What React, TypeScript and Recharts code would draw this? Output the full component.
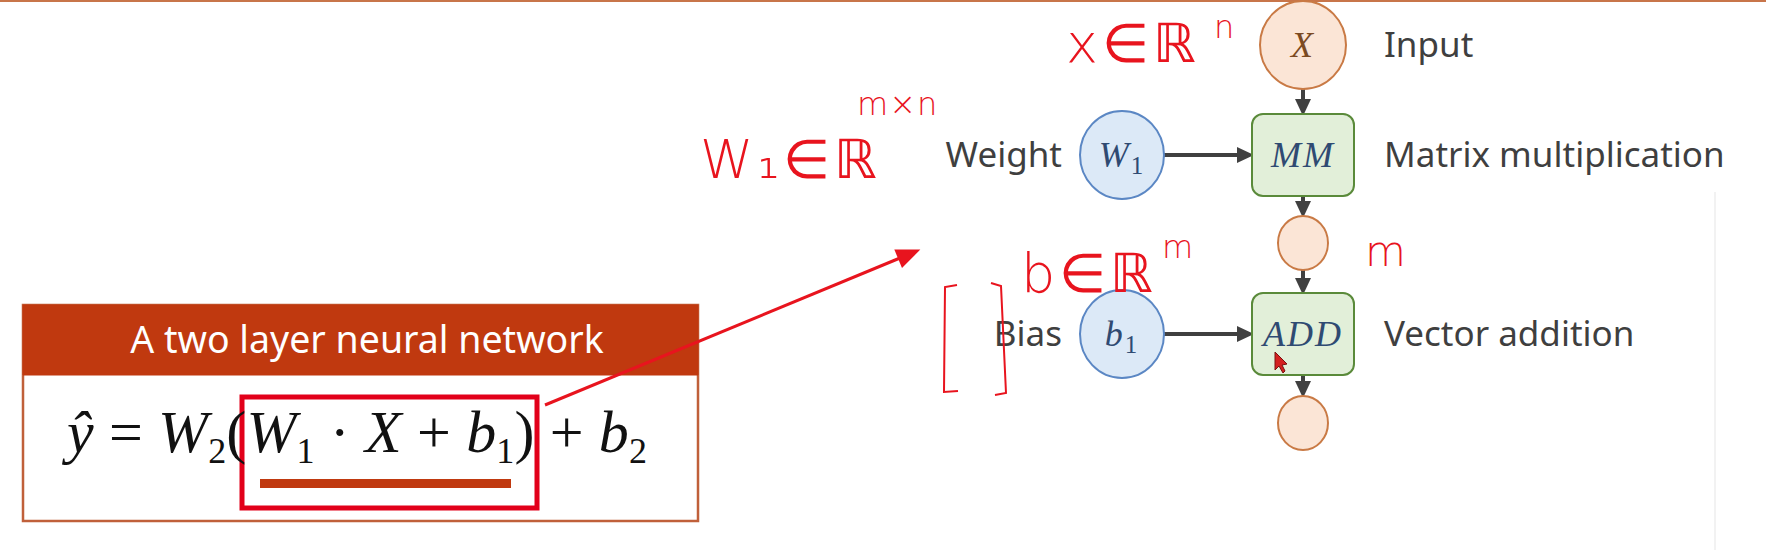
import React from 'react';
import { ScatterChart, Scatter, XAxis, YAxis, ReferenceArea, ReferenceLine } from 'recharts';

const W = 1766;
const H = 550;

// computation graph nodes (slide pixel space)
const nodeIds = ['X', 'W1', 'MM', 'h1', 'b1', 'ADD', 'h2'];
const nodeKinds = ['input', 'param', 'op', 'hidden', 'param', 'op', 'hidden'];
const nodeX = [1303, 1122, 1303, 1303, 1122, 1303, 1303];
const nodeY = [45, 155, 155, 243, 334, 334, 423];
const nodeMain = ['X', 'W', 'MM', '', 'b', 'ADD', ''];
const nodeSub = ['', '1', '', '', '1', '', ''];

const edgeFrom = ['X', 'W1', 'MM', 'h1', 'b1', 'ADD'];
const edgeTo = ['MM', 'MM', 'h1', 'ADD', 'ADD', 'h2'];

const labelText = ['Input', 'Weight', 'Matrix multiplication', 'Bias', 'Vector addition'];
const labelX = [1384, 1062, 1384, 1062, 1384];
const labelY = [45, 155, 155, 334, 334];
const labelSide = ['right', 'left', 'right', 'left', 'right'];

// handwritten annotations
const handText = ['x∈ℝ', 'n', 'W₁∈ℝ', 'm×n', 'b∈ℝ', 'm', 'm'];
const handX = [1066, 1214, 700, 857, 1021, 1162, 1365];
const handY = [62, 38, 178, 115, 292, 258, 266];
const handKind = ['big', 'sup', 'big', 'sup', 'big', 'sup', 'mid'];

const bracketLeft = [
  { x: 957, y: 285 },
  { x: 945, y: 287 },
  { x: 944, y: 392 },
  { x: 958, y: 391 },
];
const bracketRight = [
  { x: 991, y: 283 },
  { x: 1001, y: 286 },
  { x: 1006, y: 393 },
  { x: 995, y: 395 },
];

const pointerArrow = [
  { x: 545, y: 405, end: false },
  { x: 900, y: 258, end: true },
];

const cursorPoint = [{ x: 1275, y: 352 }];

const kindStyle: Record<string, any> = {
  input: { rx: 43, ry: 44, fill: '#fbe5d6', stroke: '#c97a45', text: '#7b4a22' },
  hidden: { rx: 25, ry: 27, fill: '#fbe5d6', stroke: '#c97a45', text: '#7b4a22' },
  param: { rx: 42, ry: 44, fill: '#dce9f7', stroke: '#5b87c4', text: '#2f4a72' },
  op: { rx: 51, ry: 41, fill: '#e2efd9', stroke: '#5a8a3a', text: '#2f4a72' },
};

const handSize: Record<string, number> = { big: 54, sup: 32, mid: 42 };

const ARROW = 15;
const RED = '#e8141e';

const nodes = nodeIds.map((id, i) => ({
  id,
  x: nodeX[i],
  y: nodeY[i],
  kind: nodeKinds[i],
  main: nodeMain[i],
  sub: nodeSub[i],
}));

const edges = edgeFrom.map((f, i) => {
  const a = nodeIds.indexOf(f);
  const b = nodeIds.indexOf(edgeTo[i]);
  const dx = nodeX[b] - nodeX[a];
  const dy = nodeY[b] - nodeY[a];
  const len = Math.hypot(dx, dy);
  const ux = dx / len;
  const uy = dy / len;
  const sa = kindStyle[nodeKinds[a]];
  const sb = kindStyle[nodeKinds[b]];
  const ea = Math.abs(ux) * sa.rx + Math.abs(uy) * sa.ry;
  const eb = Math.abs(ux) * sb.rx + Math.abs(uy) * sb.ry;
  return [
    { x: nodeX[a] + ux * ea, y: nodeY[a] + uy * ea, end: false },
    { x: nodeX[b] - ux * (eb + ARROW - 2), y: nodeY[b] - uy * (eb + ARROW - 2), end: true, ux, uy },
  ];
});

const labels = labelText.map((t, i) => ({ t, x: labelX[i], y: labelY[i], side: labelSide[i] }));
const hands = handText.map((t, i) => ({ t, x: handX[i], y: handY[i], kind: handKind[i] }));
const titlePoint = [{ x: 367, y: 340 }];
const formulaPoint = [{ x: 67, y: 452 }];

const NodeShape = (props: any) => {
  const { cx, cy, payload } = props;
  const s = kindStyle[payload.kind];
  const body =
    payload.kind === 'op' ? (
      <rect x={cx - s.rx} y={cy - s.ry} width={s.rx * 2} height={s.ry * 2} rx={11} fill={s.fill} stroke={s.stroke} strokeWidth={2} />
    ) : (
      <ellipse cx={cx} cy={cy} rx={s.rx} ry={s.ry} fill={s.fill} stroke={s.stroke} strokeWidth={2} />
    );
  return (
    <g>
      {body}
      {payload.main && (
        <text
          x={cx}
          y={cy + 12}
          textAnchor="middle"
          fontFamily="'Liberation Serif', serif"
          fontStyle="italic"
          fontSize={36}
          letterSpacing={2}
          fill={s.text}
        >
          {payload.main}
          {payload.sub && (
            <tspan fontStyle="normal" fontSize={25} dy={7}>
              {payload.sub}
            </tspan>
          )}
        </text>
      )}
    </g>
  );
};

const arrowHead = (color: string, len: number, half: number) => (props: any) => {
  const { cx, cy, payload } = props;
  if (!payload.end) return <g />;
  let ux = payload.ux;
  let uy = payload.uy;
  if (ux === undefined) {
    const dx = pointerArrow[1].x - pointerArrow[0].x;
    const dy = pointerArrow[1].y - pointerArrow[0].y;
    const l = Math.hypot(dx, dy);
    ux = dx / l;
    uy = dy / l;
  }
  const tx = cx + ux * len;
  const ty = cy + uy * len;
  const bx = cx - ux * 2;
  const by = cy - uy * 2;
  const pts = `${tx},${ty} ${bx - uy * half},${by + ux * half} ${bx + uy * half},${by - ux * half}`;
  return <polygon points={pts} fill={color} />;
};

const LabelShape = (props: any) => {
  const { cx, cy, payload } = props;
  return (
    <text
      x={cx}
      y={cy + 12}
      textAnchor={payload.side === 'left' ? 'end' : 'start'}
      fontFamily="'Noto Sans', sans-serif"
      fontSize={35}
      fill="#3f3f3f"
    >
      {payload.t}
    </text>
  );
};

const HandShape = (props: any) => {
  const { cx, cy, payload } = props;
  return (
    <text
      x={cx}
      y={cy}
      fontFamily="'DejaVu Sans', Roboto, sans-serif"
      fontWeight={200}
      fontSize={handSize[payload.kind]}
      letterSpacing={payload.kind === 'big' ? 4 : 1}
      fill={RED}
    >
      {payload.t}
    </text>
  );
};

const TitleShape = (props: any) => (
  <text
    x={props.cx}
    y={props.cy + 13}
    textAnchor="middle"
    fontFamily="'Noto Sans', sans-serif"
    fontSize={37.5}
    fill="#ffffff"
  >
    A two layer neural network
  </text>
);

const FormulaShape = (props: any) => {
  const it = { fontStyle: 'italic' as const };
  const sub = { fontSize: 36, fontStyle: 'normal' as const };
  return (
    <text
      x={props.cx}
      y={props.cy}
      fontFamily="'Liberation Serif', serif"
      fontSize={60}
      fill="#111111"
      textLength={580}
      lengthAdjust="spacing"
    >
      <tspan {...it}>ŷ</tspan>
      <tspan> = </tspan>
      <tspan {...it}>W</tspan>
      <tspan {...sub} dy={11}>2</tspan>
      <tspan dy={-11}>(</tspan>
      <tspan {...it}>W</tspan>
      <tspan {...sub} dy={11}>1</tspan>
      <tspan dy={-11}> · </tspan>
      <tspan {...it}>X</tspan>
      <tspan> + </tspan>
      <tspan {...it}>b</tspan>
      <tspan {...sub} dy={11}>1</tspan>
      <tspan dy={-11}>) + </tspan>
      <tspan {...it}>b</tspan>
      <tspan {...sub} dy={11}>2</tspan>
    </text>
  );
};

const CursorShape = (props: any) => {
  const { cx, cy } = props;
  const pts = `${cx},${cy} ${cx},${cy + 18} ${cx + 4},${cy + 14} ${cx + 8},${cy + 21} ${cx + 10},${cy + 19} ${cx + 7},${cy + 13} ${cx + 12},${cy + 12}`;
  return <polygon points={pts} fill="#d42020" stroke="#7a1010" strokeWidth={1} />;
};

const Empty = () => <g />;

export default function App() {
  return (
    <div style={{ width: W, height: H, background: '#ffffff' }}>
      <style>{'body{margin:0;overflow:hidden;}'}</style>
      <ScatterChart width={W} height={H} margin={{ top: 0, right: 0, bottom: 0, left: 0 }}>
        <XAxis type="number" dataKey="x" domain={[0, W]} allowDataOverflow hide />
        <YAxis type="number" dataKey="y" domain={[0, H]} allowDataOverflow reversed hide />

        <ReferenceLine y={1} stroke="#c8754a" strokeWidth={2} />
        <ReferenceLine
          segment={[
            { x: 1715, y: 192 },
            { x: 1715, y: 550 },
          ]}
          stroke="#f2f2f2"
          strokeWidth={2}
        />

        {/* formula card */}
        <ReferenceArea x1={23} x2={698} y1={305} y2={521} fill="#ffffff" fillOpacity={1} stroke="#c0603a" strokeWidth={2.5} />
        <ReferenceArea x1={23} x2={698} y1={305} y2={375} fill="#c0390f" fillOpacity={1} stroke="#c0390f" />
        <ReferenceArea x1={260} x2={511} y1={479} y2={488} fill="#c0390f" fillOpacity={1} />
        <ReferenceArea x1={242} x2={537} y1={397} y2={508} fill="none" fillOpacity={0} stroke="#e2001a" strokeWidth={5} />

        <Scatter data={titlePoint} shape={TitleShape} isAnimationActive={false} legendType="none" />
        <Scatter data={formulaPoint} shape={FormulaShape} isAnimationActive={false} legendType="none" />

        {edges.map((e, i) => (
          <Scatter
            key={`edge-${i}`}
            data={e}
            line={{ stroke: '#404040', strokeWidth: 4 }}
            shape={arrowHead('#404040', ARROW, 8)}
            isAnimationActive={false}
            legendType="none"
          />
        ))}

        <Scatter data={nodes} shape={NodeShape} isAnimationActive={false} legendType="none" />
        <Scatter data={labels} shape={LabelShape} isAnimationActive={false} legendType="none" />

        <Scatter
          data={pointerArrow}
          line={{ stroke: RED, strokeWidth: 3 }}
          shape={arrowHead(RED, 22, 10)}
          isAnimationActive={false}
          legendType="none"
        />
        <Scatter data={bracketLeft} line={{ stroke: RED, strokeWidth: 2 }} shape={Empty} isAnimationActive={false} legendType="none" />
        <Scatter data={bracketRight} line={{ stroke: RED, strokeWidth: 2 }} shape={Empty} isAnimationActive={false} legendType="none" />
        <Scatter data={hands} shape={HandShape} isAnimationActive={false} legendType="none" />
        <Scatter data={cursorPoint} shape={CursorShape} isAnimationActive={false} legendType="none" />
      </ScatterChart>
    </div>
  );
}
